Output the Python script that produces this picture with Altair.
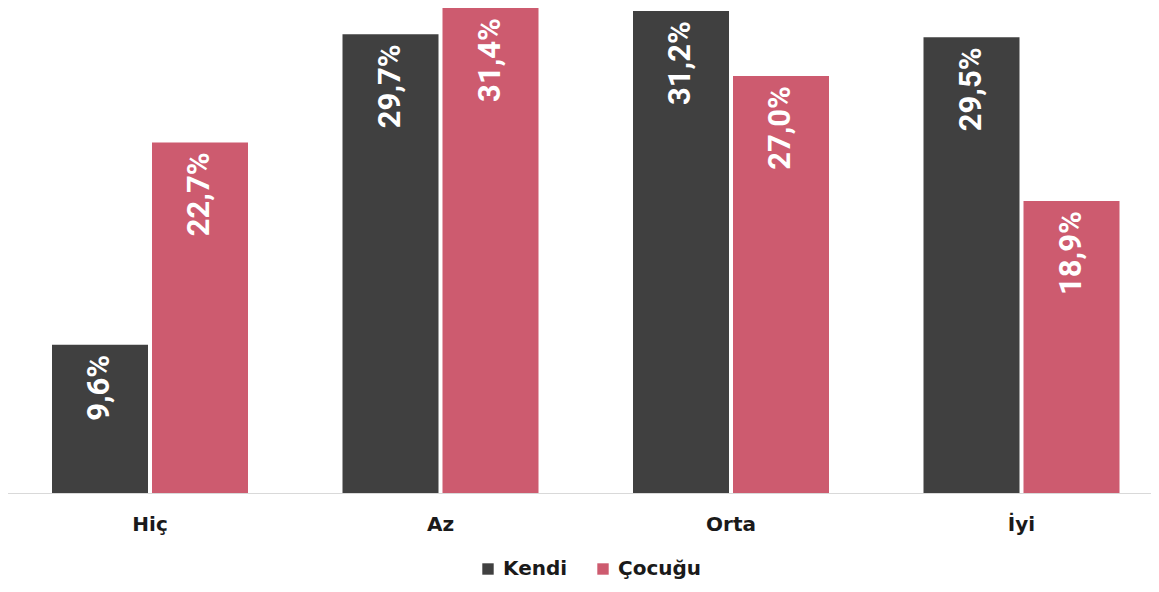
import altair as alt
import pandas as pd

categories = ["Hiç", "Az", "Orta", "İyi"]
series = ["Kendi", "Çocuğu"]
kendi = [9.6, 29.7, 31.2, 29.5]
cocugu = [22.7, 31.4, 27.0, 18.9]
colors = ["#404040", "#cd5b6f"]

rows = []
for c, k, cc in zip(categories, kendi, cocugu):
    rows.append({"cat": c, "seri": "Kendi", "val": k, "lbl": f"{k:.1f}%".replace(".", ",")})
    rows.append({"cat": c, "seri": "Çocuğu", "val": cc, "lbl": f"{cc:.1f}%".replace(".", ",")})
df = pd.DataFrame(rows)

x = alt.X("cat:N", sort=categories, title=None,
          scale=alt.Scale(range=[-3.25, 1158.75], paddingInner=0, paddingOuter=0),
          axis=alt.Axis(labelAngle=0, labelFont="DejaVu Sans", labelFontWeight="bold",
                        labelFontSize=20, labelColor="#1a1a1a", labelPadding=21,
                        ticks=False, domainColor="#d9d9d9", domainWidth=1))
xo = alt.XOffset("seri:N", sort=series,
                 scale=alt.Scale(paddingInner=0.04, paddingOuter=0.4725))
y = alt.Y("val:Q", scale=alt.Scale(domain=[0, 31.4], nice=False), axis=None)

base = alt.Chart(df).encode(x=x, xOffset=xo, y=y)

bars = base.mark_bar(clip=False).encode(
    color=alt.Color("seri:N", sort=series,
                    scale=alt.Scale(domain=series, range=colors),
                    legend=alt.Legend(title=None, orient="none", direction="horizontal",
                                      legendX=470, legendY=551, symbolType="square",
                                      symbolSize=130, symbolStrokeWidth=0,
                                      labelFont="DejaVu Sans", labelFontWeight="bold",
                                      labelFontSize=20, labelColor="#1a1a1a",
                                      columnPadding=25, labelOffset=5))
)

labels = base.mark_text(angle=270, align="right", baseline="middle", dx=-10,
                        font="Roboto", fontWeight="bold", fontSize=31,
                        color="white").encode(text="lbl:N")

chart = (bars + labels).properties(
    width=1143, height=485,
    padding={"left": 0, "top": 0, "right": 0, "bottom": 90},
    autosize=alt.AutoSizeParams(type="none"),
).configure_view(stroke=None)

chart.save("out.html", embed_options={"renderer": "svg", "actions": False})
